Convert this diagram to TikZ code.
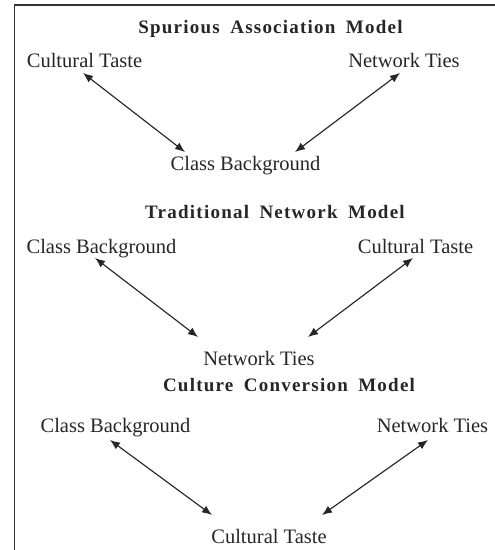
\documentclass[tikz,border=0pt]{standalone}
\usepackage{fontspec}
\setmainfont{Liberation Serif}
\usetikzlibrary{arrows.meta,calc}
\newcommand{\wsp}{\hspace{0.55em}}
\begin{document}
\begin{tikzpicture}[x=1pt,y=-1pt,
  lbl/.style={inner sep=0pt,anchor=base,font=\fontsize{20.5}{22}\selectfont,text=black!85},
  ttl/.style={inner sep=0pt,anchor=base,font=\fontsize{19}{22}\selectfont\bfseries\addfontfeatures{LetterSpace=6.5},text=black!85},
  link/.style={line width=1.15pt,draw=black!85,{Latex[length=10pt,width=8pt]}-{Latex[length=10pt,width=8pt]}}]
\useasboundingbox (0,0) rectangle (495,550);
\draw[line width=1.3pt,black!80] (14.5,550) -- (14.5,5) -- (495,5);
% Section 1
\node[ttl] (t1) at (270.5,33) {Spurious\wsp Association\wsp Model};
\node[lbl] (ct1) at (84.5,67) {Cultural Taste};
\node[lbl] (nt1) at (404,67) {Network Ties};
\node[lbl] (cb1) at (245.5,170) {Class Background};
\draw[link] ($(ct1.base)+(-1.5,6)$) -- ($(cb1.base)+(-60.5,-18)$);
\draw[link] ($(nt1.base)+(-4,6)$) -- ($(cb1.base)+(49.5,-18)$);
% Section 2
\node[ttl] (t2) at (275,218) {Traditional\wsp Network\wsp Model};
\node[lbl] (cb2) at (101.5,253) {Class Background};
\node[lbl] (ct2) at (415.5,253) {Cultural Taste};
\node[lbl] (nt2) at (259,365) {Network Ties};
\draw[link] ($(cb2.base)+(-6.5,5)$) -- ($(nt2.base)+(-61,-28)$);
\draw[link] ($(ct2.base)+(-2.5,5)$) -- ($(nt2.base)+(49,-28)$);
% Section 3
\node[ttl] (t3) at (289,391) {Culture\wsp Conversion\wsp Model};
\node[lbl] (cb3) at (115.5,432) {Class Background};
\node[lbl] (nt3) at (432.5,432) {Network Ties};
\node[lbl] (ct3) at (269,543) {Cultural Taste};
\draw[link] ($(cb3.base)+(-5.5,8)$) -- ($(ct3.base)+(-57,-28)$);
\draw[link] ($(nt3.base)+(-4.5,8)$) -- ($(ct3.base)+(53,-28)$);
\end{tikzpicture}
\end{document}
